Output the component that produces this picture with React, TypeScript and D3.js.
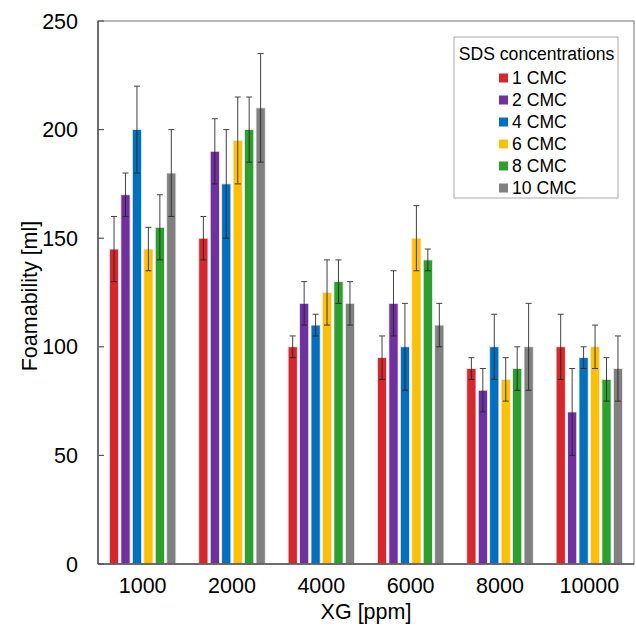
import * as d3 from "d3";

const groups = ["1000", "2000", "4000", "6000", "8000", "10000"];
const seriesNames = ["1 CMC", "2 CMC", "4 CMC", "6 CMC", "8 CMC", "10 CMC"];
const seriesColors = ["#d9262b", "#7030a0", "#0070c0", "#ffc000", "#2ca02c", "#808080"];

// values per series, one entry per XG group
const cmc1 = [145, 150, 100, 95, 90, 100];
const cmc2 = [170, 190, 120, 120, 80, 70];
const cmc4 = [200, 175, 110, 100, 100, 95];
const cmc6 = [145, 195, 125, 150, 85, 100];
const cmc8 = [155, 200, 130, 140, 90, 85];
const cmc10 = [180, 210, 120, 110, 100, 90];

const err1 = [15, 10, 5, 10, 5, 15];
const err2 = [10, 15, 10, 15, 10, 20];
const err4 = [20, 25, 5, 20, 15, 5];
const err6 = [10, 20, 15, 15, 10, 10];
const err8 = [15, 15, 10, 5, 10, 10];
const err10 = [20, 25, 10, 10, 20, 15];

const yTicks = [0, 50, 100, 150, 200, 250];

const values = [cmc1, cmc2, cmc4, cmc6, cmc8, cmc10];
const errors = [err1, err2, err4, err6, err8, err10];

export default function App() {
  const W = 636, H = 628;
  const m = { left: 98, right: 2, top: 21, bottom: 64 };
  const font = "Arial, 'Liberation Sans', sans-serif";
  const fs = 21.5;

  const x = d3.scaleBand().domain(groups).range([m.left, W - m.right]).paddingInner(0).paddingOuter(0);
  const inner = d3.scaleBand().domain(seriesNames).range([0, x.bandwidth()]).paddingInner(0.2).paddingOuter(1.0);
  const y = d3.scaleLinear().domain([0, 250]).range([H - m.bottom, m.top]);

  const y0 = y(0);
  const cap = 3;

  return (
    <svg width={W} height={H} style={{ position: "absolute", left: 0, top: 0, background: "#fff" }}>
      {/* bars */}
      {groups.map((g, gi) => (
        <g key={g} transform={`translate(${x(g)},0)`}>
          {seriesNames.map((s, si) => {
            const v = values[si][gi];
            const bx = inner(s)!;
            const bw = inner.bandwidth();
            return (
              <rect key={s} x={bx} y={y(v)} width={bw} height={y0 - y(v)}
                fill={seriesColors[si]} stroke="#eeeeee" strokeWidth={0.8} />
            );
          })}
          {seriesNames.map((s, si) => {
            const v = values[si][gi];
            const e = errors[si][gi];
            const cx = inner(s)! + inner.bandwidth() / 2;
            return (
              <g key={s} stroke="#222" strokeWidth={1} opacity={0.85}>
                <line x1={cx} x2={cx} y1={y(v + e)} y2={y(v - e)} />
                <line x1={cx - cap} x2={cx + cap} y1={y(v + e)} y2={y(v + e)} />
                <line x1={cx - cap} x2={cx + cap} y1={y(v - e)} y2={y(v - e)} />
              </g>
            );
          })}
        </g>
      ))}

      {/* frame */}
      <rect x={m.left} y={m.top} width={W - m.right - m.left} height={y0 - m.top}
        fill="none" stroke="#8a8a8a" strokeWidth={1.2} />
      <line x1={m.left} x2={m.left} y1={m.top} y2={y0} stroke="#555" strokeWidth={1.5} />
      <line x1={m.left} x2={W - m.right} y1={y0} y2={y0} stroke="#555" strokeWidth={1.5} />

      {/* y ticks */}
      {yTicks.map(t => (
        <g key={t}>
          <line x1={m.left} x2={m.left + 6} y1={y(t)} y2={y(t)} stroke="#555" strokeWidth={1.2} />
          <text x={m.left - 20} y={y(t)} dy="0.35em" textAnchor="end" fontFamily={font} fontSize={fs} fill="#000">{t}</text>
        </g>
      ))}

      {/* x labels */}
      {groups.map(g => (
        <text key={g} x={x(g)! + x.bandwidth() / 2} y={y0 + 29} textAnchor="middle" fontFamily={font} fontSize={fs} fill="#000">{g}</text>
      ))}

      <text x={(m.left + W - m.right) / 2} y={y0 + 55} textAnchor="middle" fontFamily={font} fontSize={fs} fill="#000">XG [ppm]</text>
      <text transform={`translate(37,296) rotate(-90)`} textAnchor="middle" fontFamily={font} fontSize={fs} fill="#000">Foamability [ml]</text>

      {/* legend */}
      <g>
        <rect x={454} y={37} width={164} height={161} fill="#fff" stroke="#aaa" strokeWidth={1} />
        <text x={536.5} y={54} dy="0.35em" textAnchor="middle" fontFamily={font} fontSize={17.6} fill="#000">SDS concentrations</text>
        {seriesNames.map((s, i) => (
          <g key={s} transform={`translate(499,${78 + i * 22})`}>
            <rect x={0} y={-4.5} width={9} height={9} fill={seriesColors[i]} />
            <text x={13} y={0} dy="0.35em" fontFamily={font} fontSize={17.6} fill="#000">{s}</text>
          </g>
        ))}
      </g>
    </svg>
  );
}
